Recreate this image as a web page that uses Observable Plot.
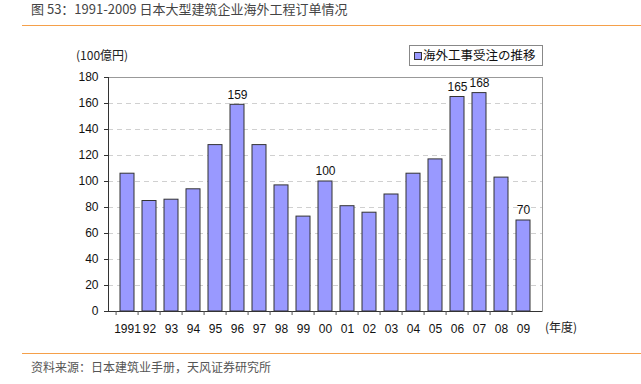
<!DOCTYPE html>
<html><head><meta charset="utf-8">
<script src="https://cdn.jsdelivr.net/npm/d3@7"></script>
<script src="https://cdn.jsdelivr.net/npm/@observablehq/plot@0.6"></script>
<style>
body{margin:0;background:#fff;}
#wrap{position:relative;width:641px;height:384px;overflow:hidden;font-family:"Liberation Sans",Arial,sans-serif;}
#wrap svg{position:absolute;left:0;top:0;}
.t{position:absolute;white-space:nowrap;}
</style></head><body>
<div id="wrap">
  <div class="t" style="left:31px;top:1px;line-height:15px;font-size:13px;color:#444;font-family:'Noto Sans CJK SC',sans-serif;">图 53：1991-2009 日本大型建筑企业海外工程订单情况</div>
  <div style="position:absolute;left:22px;top:25px;width:619px;height:0;border-top:1.5px solid #F5A04A;"></div>
  <div style="position:absolute;left:22px;top:353px;width:619px;height:0;border-top:1.5px solid #F5A04A;"></div>
  <div class="t" style="left:31px;top:358px;font-size:12px;color:#555;font-family:'Noto Sans CJK SC',sans-serif;">资料来源：日本建筑业手册，天风证券研究所</div>
  <div class="t" style="left:76px;top:46px;font-size:12px;color:#222;font-family:'Noto Sans CJK JP',sans-serif;">(100億円)</div>
  <div class="t" style="left:545px;top:318px;font-size:12px;color:#222;font-family:'Noto Sans CJK JP',sans-serif;">(年度)</div>
  <div id="legend" style="position:absolute;left:409px;top:45px;width:132px;height:19px;border:1px solid #888;background:#fff;z-index:2;font-family:'Noto Sans CJK JP',sans-serif;font-size:12.5px;color:#111;white-space:nowrap;">
    <span style="position:absolute;left:4px;top:6px;width:6px;height:6px;background:#9999FF;border:1px solid #333;"></span>
    <span style="position:absolute;left:13px;top:0px;line-height:18px;">海外工事受注の推移</span>
  </div>
</div>
<script>
const years = ["1991","92","93","94","95","96","97","98","99","00","01","02","03","04","05","06","07","08","09"];
const orders = [106,85,86,94,128,159,128,97,73,100,81,76,90,106,117,165,168,103,70];
const labeled = ["96","00","06","07","09"];
const yTicks = [0,20,40,60,80,100,120,140,160,180];
const gridTicks = [20,40,60,80,100,120,140,160];

const data = years.map((y,i)=>({year:y, value:orders[i]}));
const W=641,H=384,ML=108,MR=99,MT=77,MB=73;
const step=(W-ML-MR)/years.length;

const chart = Plot.plot({
  width:W,height:H,marginLeft:ML,marginRight:MR,marginTop:MT,marginBottom:MB,
  style:{fontFamily:"'Liberation Sans',Arial,sans-serif",fontSize:"12px",color:"#222",background:"transparent"},
  x:{domain:years,paddingInner:0.375,paddingOuter:0.1875,label:null},
  y:{domain:[0,180],label:null},
  marks:[
    Plot.ruleY(gridTicks,{stroke:"#d0d0d0",strokeDasharray:"5,4"}),
    Plot.frame({stroke:"#999"}),
    Plot.barY(data,{x:"year",y:"value",fill:"#9999FF",stroke:"#333",strokeWidth:1}),
    Plot.text(data.filter(d=>labeled.includes(d.year)),{x:"year",y:"value",text:d=>String(d.value),dy:-10,fill:"#111",fontSize:12}),
    Plot.ruleY([0],{stroke:"#333"}),
    Plot.frame({anchor:"left",stroke:"#333"}),
    Plot.axisY({ticks:yTicks,tickSize:4,tickPadding:6,stroke:"#333",fill:"#111",fontSize:12,label:null}),
    Plot.axisX({tickSize:4,tickFormat:()=>"",dx:-step/2,stroke:"#555",label:null}),
    Plot.axisX({tickSize:0,tickPadding:13,fill:"#111",fontSize:12,letterSpacing:"0.5px",label:null})
  ]
});
document.getElementById("wrap").appendChild(chart);
</script>
</body></html>
